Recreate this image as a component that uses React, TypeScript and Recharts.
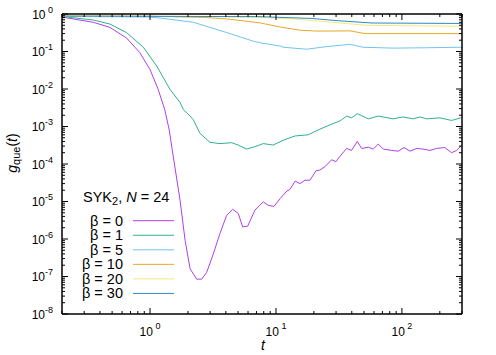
import React from 'react';
import { LineChart, Line, XAxis, YAxis, Legend } from 'recharts';

// ---- data ----
const tBeta0 = [0.2, 0.355, 0.48, 0.65, 0.83, 1.0, 1.16, 1.31, 1.42, 1.5, 1.73, 1.9, 2.08, 2.35, 2.57, 2.82, 3.18, 3.59, 4.06, 4.53, 5.02, 5.44, 5.96, 6.81, 7.93, 8.69, 9.64, 10.8, 12.2, 12.9, 14.2, 15.5, 17.0, 18.6, 20.8, 22.3, 24.5, 27.7, 29.9, 32.2, 36.4, 39.8, 44.2, 47.9, 54.1, 59.2, 64.9, 71.1, 82.8, 93.5, 104, 116, 131, 147, 167, 188, 219, 248, 272, 294];
const gBeta0 = [0.83, 0.6, 0.44, 0.23, 0.093, 0.033, 0.0098, 2.8e-3, 8.1e-4, 2.4e-4, 1.1e-5, 9.1e-7, 1.6e-7, 8.5e-8, 8.5e-8, 1.3e-7, 4.0e-7, 1.4e-6, 4.3e-6, 6.2e-6, 4.8e-6, 2.1e-6, 2.2e-6, 5.9e-6, 9.8e-6, 7.9e-6, 7.4e-6, 1.2e-5, 1.9e-5, 2.1e-5, 3.5e-5, 3.0e-5, 3.7e-5, 3.7e-5, 6.6e-5, 6.9e-5, 8.5e-5, 1.3e-4, 1.15e-4, 1.6e-4, 2.6e-4, 2.3e-4, 4.0e-4, 2.6e-4, 2.8e-4, 2.5e-4, 3.4e-4, 2.5e-4, 2.3e-4, 2.2e-4, 2.75e-4, 2.2e-4, 2.6e-4, 2.5e-4, 2.3e-4, 2.6e-4, 2.75e-4, 2.0e-4, 2.3e-4, 3.0e-4];

const tBeta1 = [0.2, 0.355, 0.48, 0.65, 0.885, 1.13, 1.44, 1.73, 1.84, 2.08, 2.21, 2.49, 2.99, 3.59, 4.45, 5.02, 5.84, 6.81, 7.93, 9.5, 11.4, 14.2, 18.0, 22.3, 28.5, 32.2, 36.4, 39.8, 44.2, 54.1, 64.9, 85, 102, 123, 139, 157, 200, 248, 294];
const gBeta1 = [0.86, 0.69, 0.54, 0.32, 0.13, 0.041, 9.8e-3, 4.4e-3, 2.8e-3, 1.9e-3, 1.5e-3, 6.6e-4, 3.8e-4, 3.5e-4, 3.7e-4, 3.2e-4, 2.5e-4, 2.9e-4, 3.5e-4, 3.2e-4, 4.3e-4, 5.6e-4, 6.0e-4, 8.5e-4, 1.2e-3, 1.4e-3, 1.9e-3, 1.7e-3, 2.2e-3, 1.6e-3, 1.9e-3, 1.6e-3, 1.8e-3, 1.6e-3, 1.8e-3, 1.6e-3, 1.7e-3, 1.45e-3, 1.7e-3];

const tBeta5 = [0.2, 1.0, 1.2, 2.21, 4.06, 6.56, 7.47, 10.8, 11.4, 17.5, 25.2, 38.6, 49.1, 85, 157, 300];
const gBeta5 = [0.86, 0.83, 0.78, 0.6, 0.32, 0.19, 0.17, 0.14, 0.13, 0.115, 0.135, 0.155, 0.13, 0.123, 0.126, 0.13];

const tBeta10 = [0.2, 1.0, 2.7, 4.06, 7.47, 10.8, 15.5, 21.3, 38.6, 51, 300];
const gBeta10 = [0.88, 0.87, 0.81, 0.74, 0.58, 0.45, 0.37, 0.35, 0.355, 0.3, 0.3];

const tBeta20 = [0.2, 3.0, 7.47, 13.7, 25.2, 52, 300];
const gBeta20 = [0.88, 0.86, 0.81, 0.74, 0.62, 0.5, 0.47];

const tBeta30 = [0.2, 7.47, 19.4, 31.5, 58, 300];
const gBeta30 = [0.88, 0.85, 0.76, 0.66, 0.575, 0.56];

const seriesNames = ['β = 0', 'β = 1', 'β = 5', 'β = 10', 'β = 20', 'β = 30'];
const seriesColors = ['#b040e8', '#30b090', '#70c4f0', '#eaa828', '#f2ea80', '#3088c4'];
const seriesT = [tBeta0, tBeta1, tBeta5, tBeta10, tBeta20, tBeta30];
const seriesG = [gBeta0, gBeta1, gBeta5, gBeta10, gBeta20, gBeta30];

const legendTitle = 'SYK';
const legendTitleSub = '2';
const legendTitleRest = ', ';
const legendN = 'N';
const legendNValue = ' = 24';

const xExponents = [0, 1, 2];
const yExponents = [0, -1, -2, -3, -4, -5, -6, -7, -8];
const xTicks = [0.2, 0.3, 0.4, 0.5, 0.6, 0.7, 0.8, 0.9, 1, 2, 3, 4, 5, 6, 7, 8, 9, 10, 20, 30, 40, 50, 60, 70, 80, 90, 100, 200, 300];
const minorMultipliers = [2, 3, 4, 5, 6, 7, 8, 9];
const yTicks: number[] = [];
yExponents.forEach((e) => {
  yTicks.push(Math.pow(10, e));
  if (e < 0) minorMultipliers.forEach((m) => yTicks.push(m * Math.pow(10, e)));
});

const FONT = '"Liberation Sans", Arial, Helvetica, sans-serif';

const isMajor = (v: number) => {
  const l = Math.log10(v);
  return Math.abs(l - Math.round(l)) < 1e-6;
};

const BottomTick = (props: any) => {
  const { x, y, payload } = props;
  const v = payload.value;
  const major = isMajor(v);
  const e = Math.round(Math.log10(v));
  const show = major && xExponents.includes(e);
  return (
    <g>
      <line x1={x} x2={x} y1={y} y2={y - (major ? 6 : 3)} stroke="#000" strokeWidth={1} />
      {show && (
        <text x={x} y={y + 22} textAnchor="middle" fontSize={12} fontFamily={FONT} fill="#000">
          10
          <tspan dy={-7} fontSize={9}>{'\u00a0' + e}</tspan>
        </text>
      )}
    </g>
  );
};

const TopTick = (props: any) => {
  const { x, y, payload } = props;
  const major = isMajor(payload.value);
  return <line x1={x} x2={x} y1={y} y2={y + (major ? 6 : 3)} stroke="#000" strokeWidth={1} />;
};

const LeftTick = (props: any) => {
  const { x, y, payload } = props;
  const v = payload.value;
  const major = isMajor(v);
  const e = Math.round(Math.log10(v));
  return (
    <g>
      <line x1={x} x2={x + (major ? 6 : 3)} y1={y} y2={y} stroke="#000" strokeWidth={1} />
      {major && (
        <text x={x - 9} y={y + 4.5} textAnchor="end" fontSize={12} fontFamily={FONT} fill="#000">
          10
          <tspan dy={-6} fontSize={9}>{e === 0 ? '\u00a00' : String(e)}</tspan>
        </text>
      )}
    </g>
  );
};

const RightTick = (props: any) => {
  const { x, y, payload } = props;
  const major = isMajor(payload.value);
  return <line x1={x} x2={x - (major ? 6 : 3)} y1={y} y2={y} stroke="#000" strokeWidth={1} />;
};

const YTitle = () => (
  <text
    x={17}
    y={153}
    transform="rotate(-90, 17, 153)"
    textAnchor="middle"
    fontSize={14}
    fontFamily={FONT}
    fill="#000"
  >
    <tspan fontStyle="italic">g</tspan>
    <tspan fontSize={11} dy={3}>que</tspan>
    <tspan dy={-3}>(</tspan>
    <tspan fontStyle="italic">t</tspan>
    <tspan>)</tspan>
  </text>
);

const XTitle = () => (
  <text x={263} y={350} textAnchor="middle" fontSize={14} fontFamily={FONT} fontStyle="italic" fill="#000">
    t
  </text>
);

const LegendContent = () => (
  <svg width={130} height={125} style={{ display: 'block' }}>
    <text x={23} y={22} fontSize={14.5} fontFamily={FONT} fill="#000">
      {legendTitle}
      <tspan fontSize={11} dy={3}>{legendTitleSub}</tspan>
      <tspan dy={-3}>{legendTitleRest}</tspan>
      <tspan fontStyle="italic">{legendN}</tspan>
      <tspan>{legendNValue}</tspan>
    </text>
    {seriesNames.map((name, i) => {
      const cy = 40.7 + 14.55 * i;
      return (
        <g key={name}>
          <text x={63} y={cy + 5} textAnchor="end" fontSize={14.5} fontFamily={FONT} fill="#000">
            {name}
          </text>
          <line x1={73} x2={114} y1={cy} y2={cy} stroke={seriesColors[i]} strokeWidth={1} />
        </g>
      );
    })}
  </svg>
);

export default function App() {
  return (
    <div style={{ position: 'absolute', left: 0, top: 0, width: 496, height: 355, background: '#fff' }}>
      <LineChart width={496} height={355} margin={{ top: 13, right: 33, bottom: 40, left: 61 }}>
        <XAxis
          xAxisId="bottom"
          dataKey="t"
          type="number"
          scale="log"
          domain={[0.2, 300]}
          allowDataOverflow
          ticks={xTicks}
          interval={0}
          height={1}
          tickSize={0}
          tickMargin={0}
          tickLine={false}
          tick={<BottomTick />}
          axisLine={{ stroke: '#000', strokeWidth: 1.5 }}
          label={<XTitle />}
        />
        <XAxis
          xAxisId="top"
          orientation="top"
          dataKey="t"
          type="number"
          scale="log"
          domain={[0.2, 300]}
          allowDataOverflow
          ticks={xTicks}
          interval={0}
          height={1}
          tickSize={0}
          tickMargin={0}
          tickLine={false}
          tick={<TopTick />}
          axisLine={{ stroke: '#000', strokeWidth: 1.5 }}
        />
        <YAxis
          yAxisId="left"
          type="number"
          scale="log"
          domain={[1e-8, 1]}
          allowDataOverflow
          ticks={yTicks}
          interval={0}
          width={1}
          tickSize={0}
          tickMargin={0}
          tickLine={false}
          tick={<LeftTick />}
          axisLine={{ stroke: '#000', strokeWidth: 1.5 }}
          label={<YTitle />}
        />
        <YAxis
          yAxisId="right"
          orientation="right"
          type="number"
          scale="log"
          domain={[1e-8, 1]}
          allowDataOverflow
          ticks={yTicks}
          interval={0}
          width={1}
          tickSize={0}
          tickMargin={0}
          tickLine={false}
          tick={<RightTick />}
          axisLine={{ stroke: '#000', strokeWidth: 1.5 }}
        />
        <Legend
          layout="vertical"
          align="center"
          verticalAlign="middle"
          content={<LegendContent />}
          wrapperStyle={{ left: 60, top: 180, width: 130, height: 125 }}
        />
        {seriesNames.map((name, i) => (
          <Line
            key={name}
            name={name}
            xAxisId="bottom"
            yAxisId="left"
            data={seriesT[i].map((t, j) => ({ t, g: seriesG[i][j] }))}
            dataKey="g"
            type="linear"
            stroke={seriesColors[i]}
            strokeWidth={1}
            dot={false}
            activeDot={false}
            isAnimationActive={false}
          />
        ))}
      </LineChart>
    </div>
  );
}
